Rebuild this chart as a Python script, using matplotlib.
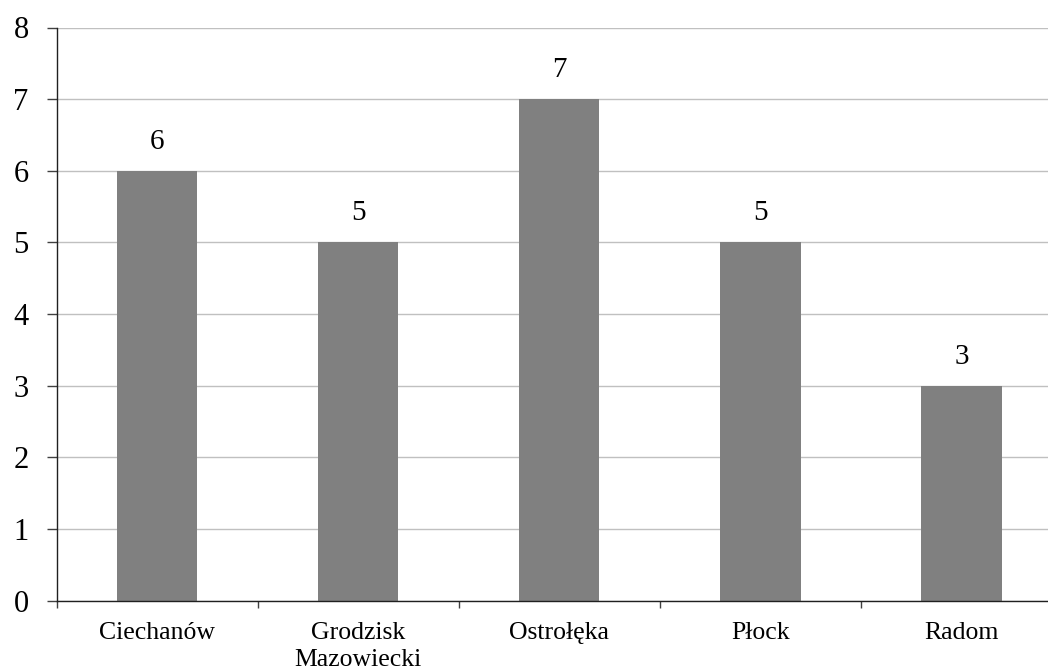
import matplotlib
matplotlib.use("Agg")
import matplotlib.pyplot as plt

categories = ["Ciechanów", "Grodzisk\nMazowiecki", "Ostrołęka", "Płock", "Radom"]
values = [6, 5, 7, 5, 3]
yticks = [0, 1, 2, 3, 4, 5, 6, 7, 8]

plt.rcParams['font.family'] = ['Liberation Serif', 'DejaVu Serif']

W, H = 1048, 670
fig = plt.figure(figsize=(W / 100, H / 100), dpi=100)
x0, x1 = 56.5, 1062
y0, y1 = 600.5, 27.5
ax = fig.add_axes([x0 / W, 1 - y0 / H, (x1 - x0) / W, (y0 - y1) / H])

pos = list(range(len(categories)))
ax.bar(pos, values, width=0.4, color="#808080", zorder=3)
for p, v in zip(pos, values):
    ax.annotate(str(v), (p, v), xytext=(0, 11.5), textcoords="offset points",
                ha="center", va="bottom", fontsize=21)

ax.set_xlim(-0.5, len(categories) - 0.5)
ax.set_ylim(0, 8)
ax.set_yticks(yticks)
ax.set_yticklabels([str(t) for t in yticks], fontsize=22)
ax.set_xticks(pos)
ax.set_xticklabels(categories, fontsize=18.5, linespacing=1.3)
ax.tick_params(axis="x", length=0, pad=15.5)
ax.set_xticks([p - 0.5 for p in pos], minor=True)
ax.tick_params(axis="x", which="minor", length=5, width=1, color="#404040", direction="out")
ax.tick_params(axis="y", length=7, width=1, pad=13, color="#404040")

ax.yaxis.grid(True, color="#c0c0c0", linewidth=1)
ax.set_axisbelow(True)
for s in ["top", "right"]:
    ax.spines[s].set_visible(False)
for s in ["left", "bottom"]:
    ax.spines[s].set_color("#202020")
    ax.spines[s].set_linewidth(1)
    ax.spines[s].set_zorder(4)

fig.savefig("out.png", dpi=100)
